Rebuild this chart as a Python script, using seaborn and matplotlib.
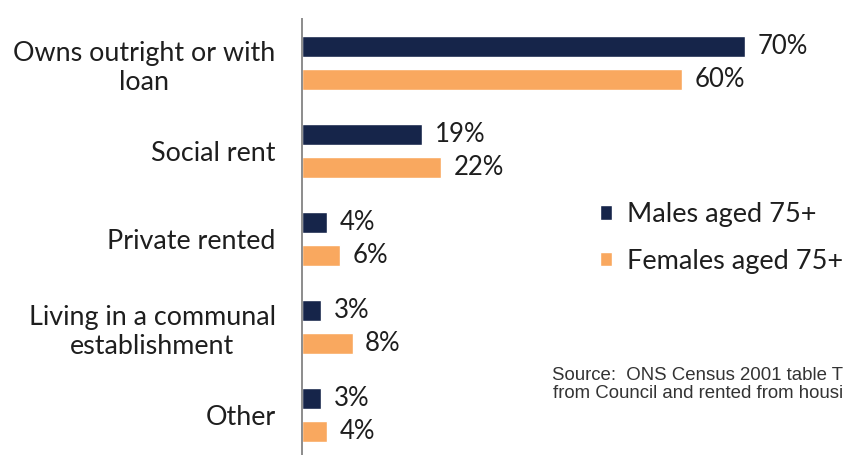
import matplotlib
matplotlib.use("Agg")
import matplotlib.pyplot as plt
import seaborn as sns
import pandas as pd

categories = [
    "Owns outright or with\nloan",
    "Social rent",
    "Private rented",
    "Living in a communal\nestablishment",
    "Other",
]
males = [70, 19, 4, 3, 3]
females = [60, 22, 6, 8, 4]
series_names = ["Males aged 75+", "Females aged 75+"]
colors = ["#16254a", "#f9a85f"]
source_lines = [
    "Source:  ONS Census 2001 table T",
    "from Council and rented from housi",
]

df = pd.DataFrame({
    "category": categories * 2,
    "share": males + females,
    "group": [series_names[0]] * len(categories) + [series_names[1]] * len(categories),
})

sns.set_theme(style="white")
plt.rcParams["font.family"] = ["Lato", "DejaVu Sans"]

W, H = 843, 455
fig = plt.figure(figsize=(W / 100, H / 100), dpi=100)
fig.patch.set_facecolor("white")
ax = fig.add_axes([302 / W, -4 / H, (W - 302) / W, 440 / H])

sns.barplot(
    data=df, y="category", x="share", hue="group", orient="h",
    palette=colors, width=0.75, gap=0.36, ax=ax, saturation=1,
    order=categories, hue_order=series_names,
)

ax.set_xlim(0, (W - 302) / 6.33)
ax.set_ylim(len(categories) - 0.5, -0.5)
ax.set_xlabel("")
ax.set_ylabel("")
ax.set_xticks([])
for side in ["top", "right", "bottom"]:
    ax.spines[side].set_visible(False)
ax.spines["left"].set_color("#8c8c8c")
ax.spines["left"].set_linewidth(1.4)

# category labels at centers, boundary ticks as minor ticks
ax.tick_params(axis="y", which="major", length=0, pad=19, labelsize=19.4, labelcolor="#1e1e1e")
for lbl in ax.get_yticklabels():
    lbl.set_multialignment("center")
ax.set_yticks([i - 0.5 for i in range(len(categories) + 1)], minor=True)
ax.tick_params(axis="y", which="minor", length=5, width=1.4, color="#8c8c8c", direction="out")

for cont, vals in zip(ax.containers, [males, females]):
    ax.bar_label(cont, labels=[f"{v}%" for v in vals], padding=9,
                 fontsize=18.5, color="#1e1e1e")

leg = ax.get_legend()
if leg is not None:
    leg.remove()
handles, labels = ax.get_legend_handles_labels()
fig.legend(
    handles, labels, loc="center left",
    bbox_to_anchor=(589 / W, 1 - 238 / H), frameon=False, borderaxespad=0,
    fontsize=19.5, handlelength=0.45, handleheight=0.45, handletextpad=0.55,
    labelspacing=0.8, labelcolor="#1e1e1e",
)

for i, line in enumerate(source_lines):
    fig.text(1.0, 1 - (376 + i * 18) / H, line, ha="right", va="center",
             fontsize=13.4, color="#333333", family=["Liberation Sans", "DejaVu Sans"])

fig.savefig("out.png", dpi=100, facecolor="white")
